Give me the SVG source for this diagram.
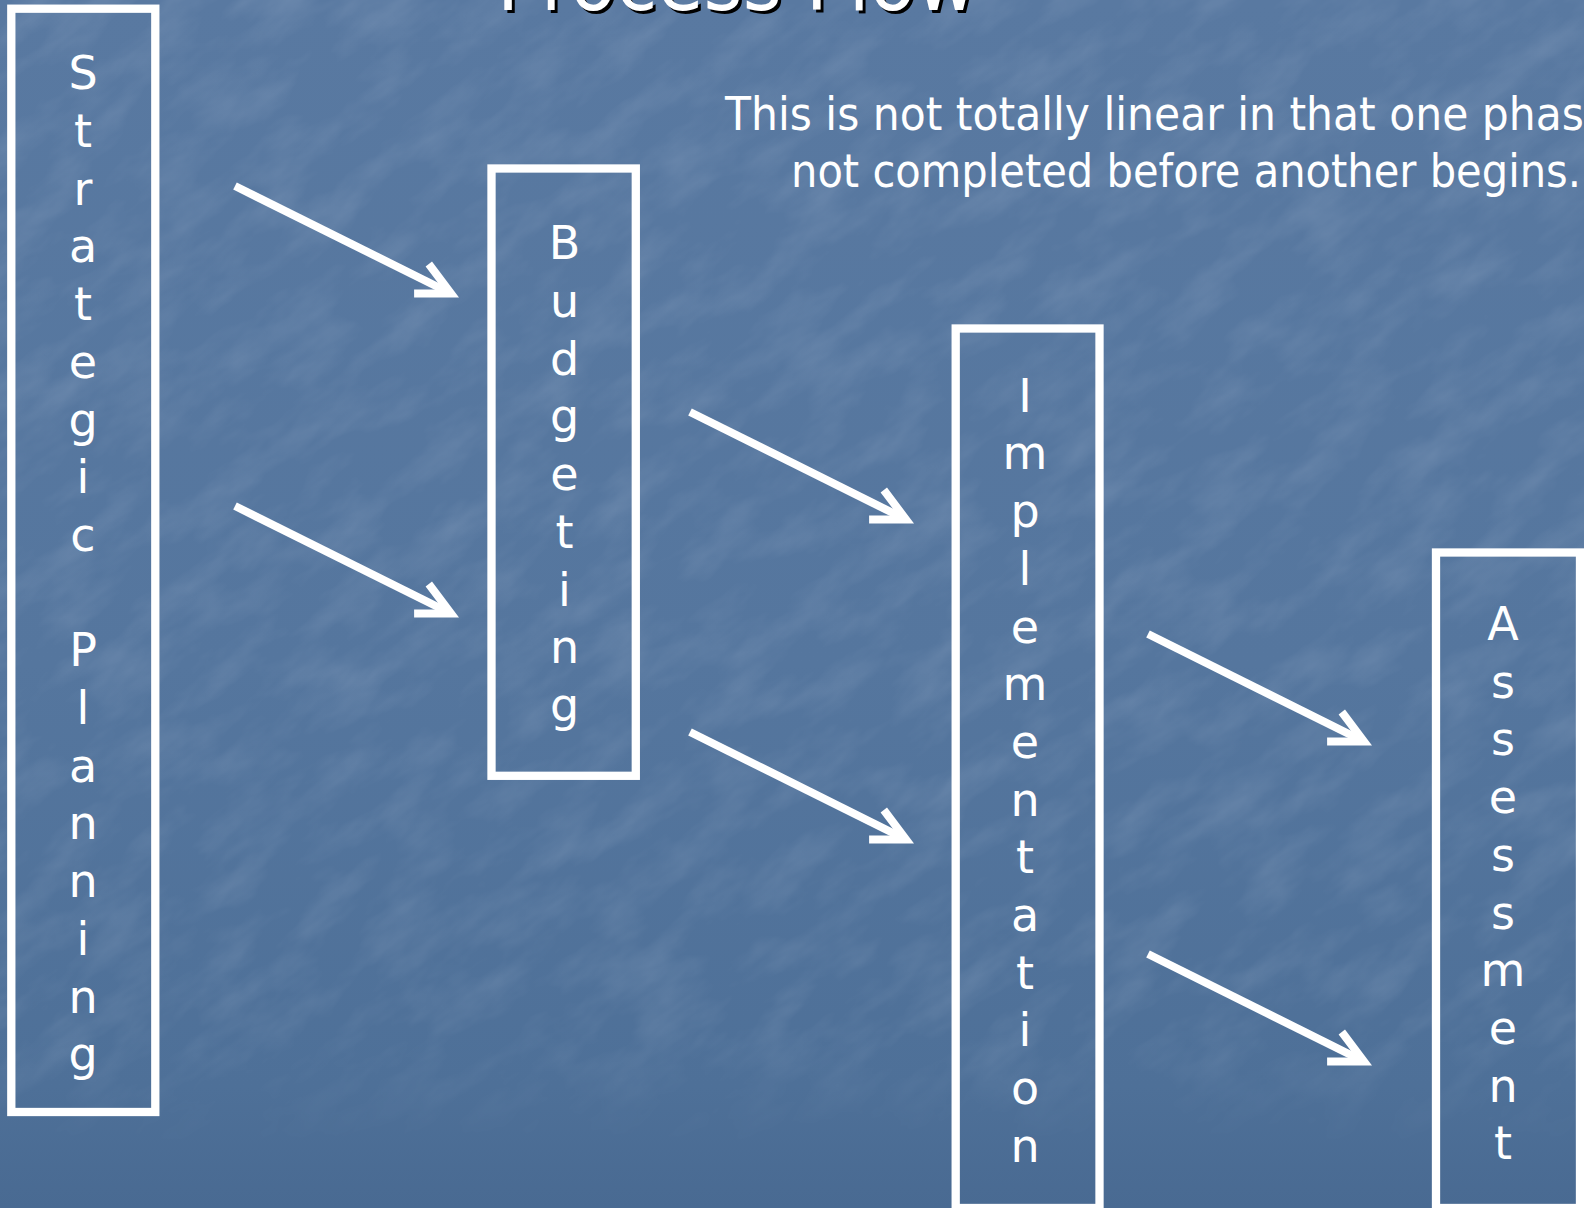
<svg xmlns="http://www.w3.org/2000/svg" width="1584" height="1208" viewBox="0 0 1584 1208">
  <defs>
    <linearGradient id="bg" x1="0" y1="0" x2="0" y2="1">
      <stop offset="0" stop-color="#5979a1"/>
      <stop offset="0.55" stop-color="#55769e"/>
      <stop offset="0.9" stop-color="#4e7098"/>
      <stop offset="1" stop-color="#496a92"/>
    </linearGradient>
    <linearGradient id="fade" x1="0" y1="0" x2="0" y2="1">
      <stop offset="0" stop-color="#fff"/>
      <stop offset="0.85" stop-color="#fff"/>
      <stop offset="0.95" stop-color="#000"/>
    </linearGradient>
    <mask id="texMask">
      <rect width="1584" height="1208" fill="url(#fade)"/>
    </mask>
    <!-- faint mottled tissue-paper texture -->
    <filter id="tissue" x="0" y="0" width="100%" height="100%">
      <feTurbulence type="fractalNoise" baseFrequency="0.012 0.03" numOctaves="4" seed="7"/>
      <feColorMatrix type="matrix" values="0 0 0 0 0.85  0 0 0 0 0.9  0 0 0 0 1  0 0 0 -1.6 0.95"/>
    </filter>
    <marker id="head" markerUnits="userSpaceOnUse" markerWidth="60" markerHeight="60" refX="0" refY="0" viewBox="-45 -30 60 60" orient="auto" overflow="visible">
      <path d="M -33,-16.5 L 0,0 L -33,16.5" fill="none" stroke="#ffffff" stroke-width="8" stroke-linejoin="miter" stroke-linecap="butt"/>
    </marker>
  </defs>
  <style>
    .box { fill: none; stroke: #ffffff; stroke-width: 8.3; }
    .vlabel { font-family: "DejaVu Sans", Verdana, sans-serif; font-size: 46px; fill: #ffffff; text-anchor: middle; }
    .note { font-family: "DejaVu Sans", Verdana, sans-serif; font-size: 46px; fill: #ffffff; }
    .title { font-family: "DejaVu Sans", Verdana, sans-serif; font-size: 82px; }
    .arrow { fill: none; stroke: #ffffff; stroke-width: 8; marker-end: url(#head); }
  </style>

  <!-- background -->
  <rect width="1584" height="1208" fill="url(#bg)"/>
  <g mask="url(#texMask)" opacity="0.13">
    <g transform="rotate(-35 792 604)">
      <rect x="-500" y="-500" width="2600" height="2200" filter="url(#tissue)"/>
    </g>
  </g>

  <!-- heading -->
  <g id="title">
    <text class="title" x="500" y="13" fill="#000000" textLength="480" lengthAdjust="spacingAndGlyphs">Process Flow</text>
    <text class="title" x="497" y="10" fill="#ffffff" textLength="480" lengthAdjust="spacingAndGlyphs">Process Flow</text>
  </g>

  <g id="note">
    <text class="note" x="725" y="130" textLength="885" lengthAdjust="spacingAndGlyphs">This is not totally linear in that one phase</text>
    <text class="note" x="791" y="187" textLength="790" lengthAdjust="spacingAndGlyphs">not completed before another begins.</text>
  </g>

  <!-- phases -->
  <g id="strategic-planning">
    <rect class="box" x="11.3" y="8.7" width="144" height="1103.3"/>
    <text class="vlabel"><tspan x="83" y="89.3">S</tspan><tspan x="83" dy="57.7">t</tspan><tspan x="83" dy="57.7">r</tspan><tspan x="83" dy="57.7">a</tspan><tspan x="83" dy="57.7">t</tspan><tspan x="83" dy="57.7">e</tspan><tspan x="83" dy="57.7">g</tspan><tspan x="83" dy="57.7">i</tspan><tspan x="83" dy="57.7">c</tspan><tspan x="83" dy="115.4">P</tspan><tspan x="83" dy="57.7">l</tspan><tspan x="83" dy="57.7">a</tspan><tspan x="83" dy="57.7">n</tspan><tspan x="83" dy="57.7">n</tspan><tspan x="83" dy="57.7">i</tspan><tspan x="83" dy="57.7">n</tspan><tspan x="83" dy="57.7">g</tspan></text>
  </g>

  <g id="budgeting">
    <rect class="box" x="491.5" y="168.5" width="144.3" height="607.3"/>
    <text class="vlabel"><tspan x="564.5" y="259.3">B</tspan><tspan x="564.5" dy="57.7">u</tspan><tspan x="564.5" dy="57.7">d</tspan><tspan x="564.5" dy="57.7">g</tspan><tspan x="564.5" dy="57.7">e</tspan><tspan x="564.5" dy="57.7">t</tspan><tspan x="564.5" dy="57.7">i</tspan><tspan x="564.5" dy="57.7">n</tspan><tspan x="564.5" dy="57.7">g</tspan></text>
  </g>

  <g id="implementation">
    <rect class="box" x="955.7" y="328.5" width="143.8" height="879.5"/>
    <text class="vlabel"><tspan x="1025" y="411.7">I</tspan><tspan x="1025" dy="57.7">m</tspan><tspan x="1025" dy="57.7">p</tspan><tspan x="1025" dy="57.7">l</tspan><tspan x="1025" dy="57.7">e</tspan><tspan x="1025" dy="57.7">m</tspan><tspan x="1025" dy="57.7">e</tspan><tspan x="1025" dy="57.7">n</tspan><tspan x="1025" dy="57.7">t</tspan><tspan x="1025" dy="57.7">a</tspan><tspan x="1025" dy="57.7">t</tspan><tspan x="1025" dy="57.7">i</tspan><tspan x="1025" dy="57.7">o</tspan><tspan x="1025" dy="57.7">n</tspan></text>
  </g>

  <g id="assessment">
    <rect class="box" x="1436" y="552.5" width="144" height="655.5"/>
    <text class="vlabel"><tspan x="1503" y="640">A</tspan><tspan x="1503" dy="57.7">s</tspan><tspan x="1503" dy="57.7">s</tspan><tspan x="1503" dy="57.7">e</tspan><tspan x="1503" dy="57.7">s</tspan><tspan x="1503" dy="57.7">s</tspan><tspan x="1503" dy="57.7">m</tspan><tspan x="1503" dy="57.7">e</tspan><tspan x="1503" dy="57.7">n</tspan><tspan x="1503" dy="57.7">t</tspan></text>
  </g>

  <!-- connectors -->
  <g id="connectors">
    <path class="arrow" d="M 235,186 l 216,107.5"/>
    <path class="arrow" d="M 235,506 l 216,107.5"/>
    <path class="arrow" d="M 690,412 l 216,107.5"/>
    <path class="arrow" d="M 690,732 l 216,107.5"/>
    <path class="arrow" d="M 1148,634 l 216,107.5"/>
    <path class="arrow" d="M 1148,954 l 216,107.5"/>
  </g>
</svg>
